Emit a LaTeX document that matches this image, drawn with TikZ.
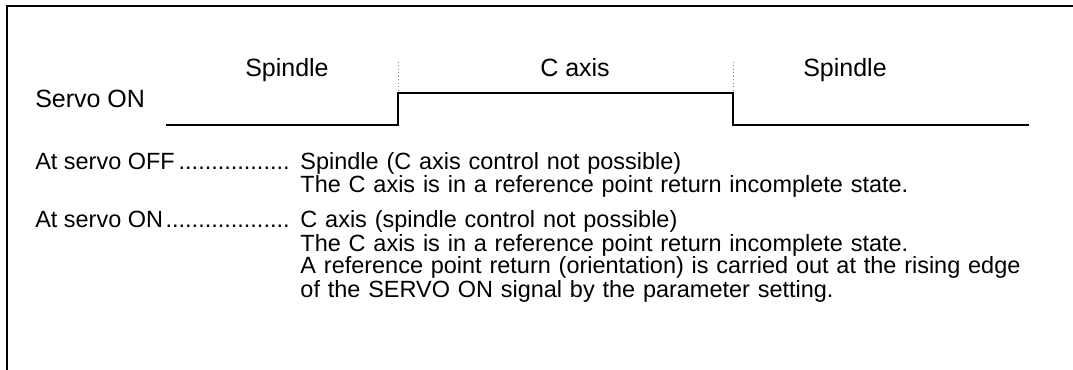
\documentclass[tikz,border=0pt]{standalone}
\usepackage{fontspec}
\setmainfont{Liberation Sans}
\usepackage{tikz}
\usetikzlibrary{positioning}
\tikzset{
  lbl/.style ={font=\fontsize{18.75}{22}\selectfont, inner sep=0pt,
    anchor=base west},
  body/.style={font=\fontsize{17.6}{17.25}\selectfont, inner sep=0pt,
    anchor=base west},
  desc/.style={body, text width=570pt, align=left},
  sig/.style ={line width=1.1pt},
  frame/.style={line width=1pt},
  edgemark/.style={gray, dotted, line width=0.6pt}
}
\newcommand{\leadto}[1]{\hbox to 191pt{#1\leaders\hbox{.}\hfill}}

\begin{document}
\begin{tikzpicture}[x=0.75pt, y=-0.75pt]
    \useasboundingbox (0,0) rectangle (1073,370);

    % ---------- frame ----------
    \coordinate (fbot) at (7,370);
    \coordinate (fcorner) at (7,6);
    \coordinate (fright) at (1073,6);
    \draw[frame] (fbot) -- (fcorner) -- (fright);

    % ---------- servo ON signal ----------
    \coordinate (s0) at (166,125);
    \coordinate (rise) at (398,125);
    \coordinate (fall) at (733,93);
    \coordinate (s1) at (1029,125);
    \coordinate (risetop) at (398,62);
    \coordinate (falltop) at (733,62);
    \draw[sig] (s0) -- (rise) |- (fall) |- (s1);
    \draw[edgemark] (risetop) -- (rise |- fall);
    \draw[edgemark] (falltop) -- (fall);

    \node[lbl] (servo) at (35,108) {Servo ON};
    \node[lbl] (spin1) at (245,77) {Spindle};
    \node[lbl] (caxis) at (540,77) {C axis};
    \node[lbl] (spin2) at (803,77) {Spindle};

    % ---------- explanation ----------
    \node[body] (atoff) at (35,170) {\leadto{At servo OFF}};
    \node[desc, right=7.5pt of atoff.base east, anchor=base west] (offtxt)
      {Spindle (C axis control not possible)\\
       The C axis is in a reference point return incomplete state.\par};

    \node[body] (aton) at (35,228) {\leadto{At servo ON}};
    \node[desc, right=7.5pt of aton.base east, anchor=base west] (ontxt)
      {C axis (spindle control not possible)\\
       The C axis is in a reference point return incomplete state.\\
       A reference point return (orientation) is carried out at the rising edge\\
       of the SERVO ON signal by the parameter setting.\par};

  \end{tikzpicture}
\end{document}
